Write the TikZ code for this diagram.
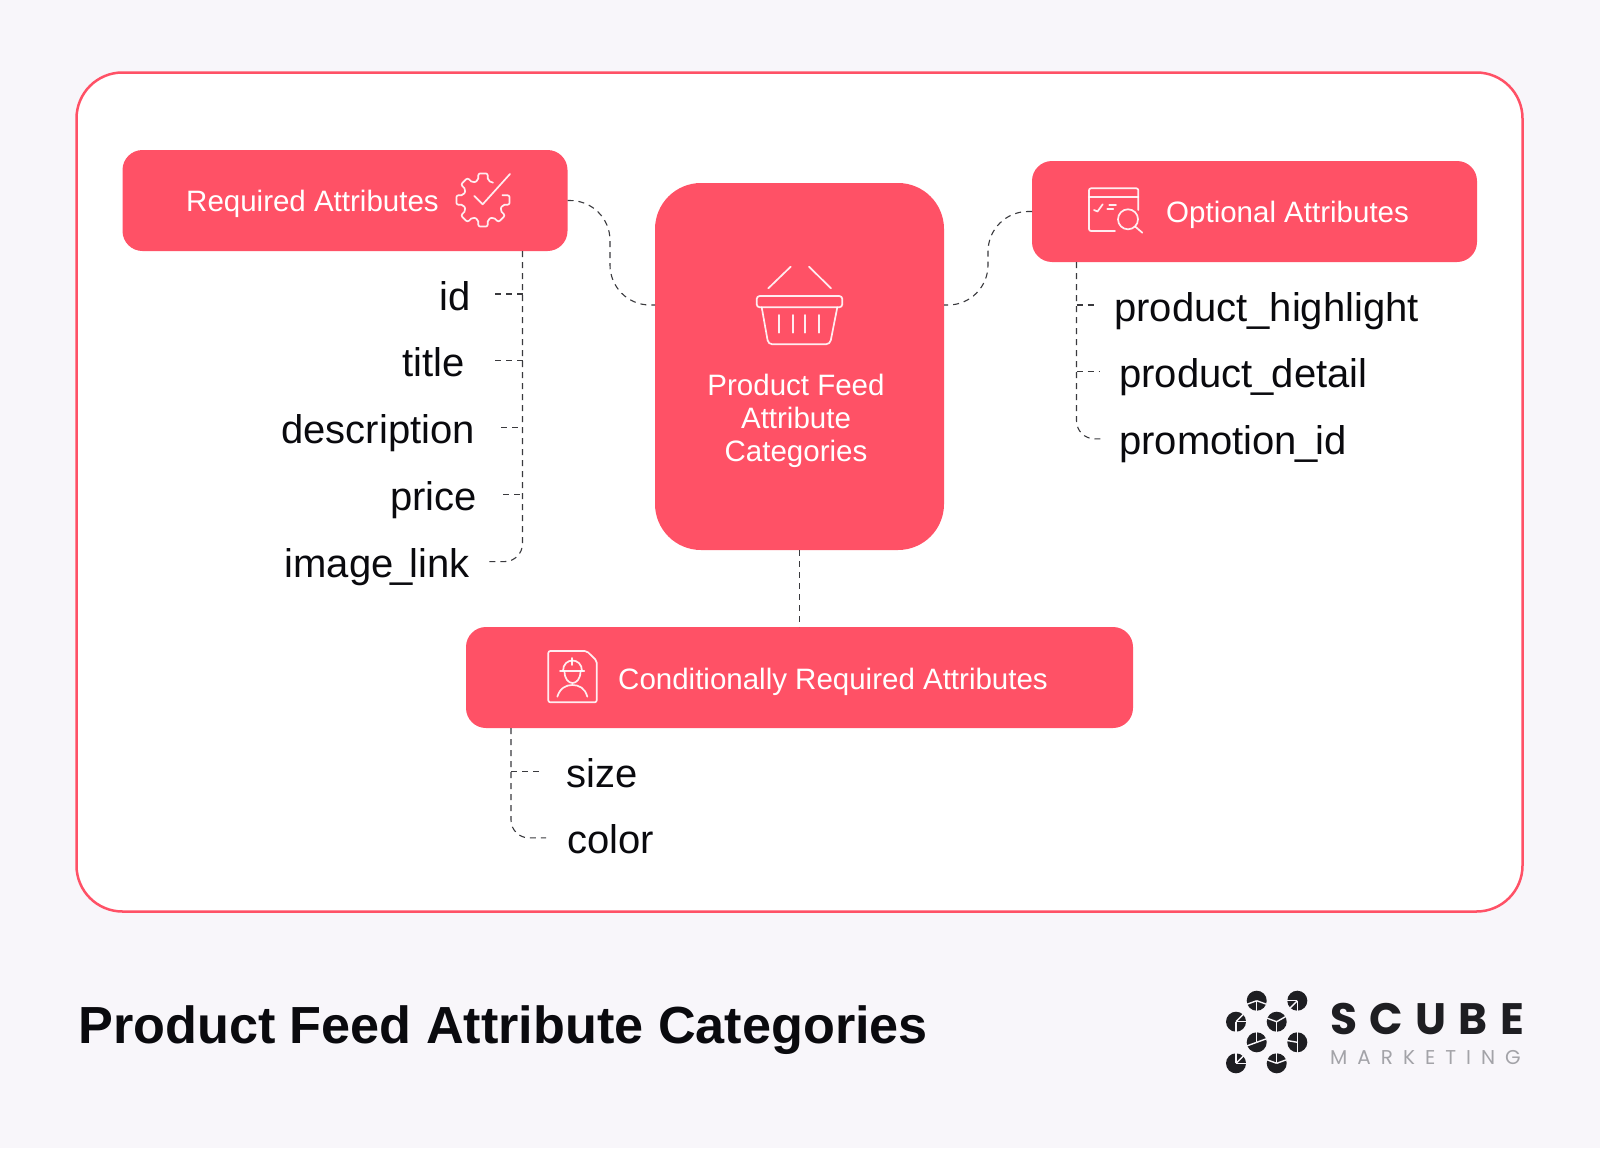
\documentclass[tikz,border=0pt]{standalone}
\usepackage{fontspec}
\setmainfont{Liberation Sans}
\newfontfamily\logofont{Poppins}
\usetikzlibrary{positioning}
\definecolor{coral}{HTML}{FF5166}
\definecolor{pagetint}{HTML}{F8F6FA}
\definecolor{inkblack}{HTML}{0A0A0E}
\definecolor{linkgrey}{HTML}{3A3A3E}
\definecolor{logogrey}{HTML}{A3A3A8}
\definecolor{logoblack}{HTML}{1E1E22}

\begin{document}
\begin{tikzpicture}[x=1pt, y=-1pt]
\tikzstyle{panel} = [rectangle, rounded corners=46pt, minimum width=1446pt, minimum height=839pt, draw=coral, line width=2.5pt, fill=white]
\tikzstyle{cat} = [rectangle, rounded corners=20pt, minimum width=445pt, minimum height=101pt, fill=coral, outer sep=0pt]
\tikzstyle{hubbox} = [rectangle, rounded corners=46pt, minimum width=289pt, minimum height=367pt, fill=coral, outer sep=0pt]
\tikzstyle{catlabel} = [text=white, inner sep=0pt, font=\fontsize{29.5}{33}\selectfont]
\tikzstyle{item} = [text=inkblack, inner sep=0pt, text height=40pt, text depth=8pt, font=\fontsize{40}{48}\selectfont]
\tikzstyle{link} = [draw=linkgrey, line width=1.1pt, dash pattern=on 6pt off 5pt]
\tikzstyle{icon} = [draw=white, line width=1.7pt, line join=round, line cap=round, opacity=0.9]

\useasboundingbox (0,0) rectangle (1600,1148);
\fill[pagetint] (0,0) rectangle (1600,1148);
\node (frame) [panel] at (799.5,492) {};

% boxes
\node (hub) [hubbox] at (799.5,366.5) {};
\node (required) [cat, left=87.5pt of hub.west, yshift=166pt] {};
\node (optional) [cat, right=88pt of hub.east, yshift=155pt] {};
\node (conditional) [cat, below=77pt of hub.south, minimum width=667pt] {};

\node (hublabel) [catlabel, align=center] at (796,421) {Product Feed\\Attribute\\Categories};
\node (requiredlabel) [catlabel, anchor=base west] at (186,211) {Required Attributes};
\node (optionallabel) [catlabel, anchor=base west] at (1166,222) {Optional Attributes};
\node (conditionallabel) [catlabel, anchor=base west] at (618,689) {Conditionally Required Attributes};

% attribute lists
\node (id) [item, anchor=east] at (471,294) {id};
\node (titleattr) [item, below=18.5pt of id.south east, anchor=north east, xshift=-6pt] {title};
\node (description) [item, below=18.5pt of titleattr.south east, anchor=north east, xshift=10pt] {description};
\node (price) [item, below=18.5pt of description.south east, anchor=north east, xshift=2pt] {price};
\node (imagelink) [item, below=18.5pt of price.south east, anchor=north east, xshift=-7pt] {image\kern-3pt\_\kern-3pt link};

\node (highlight) [item, anchor=west] at (1114,305) {product\_highlight};
\node (detail) [item, below=18.5pt of highlight.south west, anchor=north west, xshift=5pt] {product\kern-1.5pt\_\kern-1.5pt detail};
\node (promotion) [item, below=18.5pt of detail.south west, anchor=north west] {promotion\kern-2pt\_\kern-2pt id};

\node (size) [item, anchor=west] at (566,771.5) {size};
\node (color) [item, below=18pt of size.south west, anchor=north west, xshift=1pt] {color};

% connectors
\coordinate (requiredtrunk) at ([xshift=177.5pt]required.south);
\coordinate (optionaltrunk) at ([xshift=-178pt]optional.south);
\coordinate (conditionaltrunk) at ([xshift=-288.5pt]conditional.south);
\coordinate (hubleft) at ([yshift=61.5pt]hub.west);
\coordinate (hubright) at ([yshift=61.5pt]hub.east);

\draw[link, rounded corners=40pt] (required.east) -- (610,200.5) -- (610,305) -- (hubleft);
\draw[link, rounded corners=40pt] (optional.west) -- (988,211.5) -- (988,305) -- (hubright);
\draw[link] (hub.south) -- (conditional.north);

\draw[link, rounded corners=18pt, shorten >=19pt] (requiredtrunk) |- (imagelink.east);
\draw[link, shorten <=24pt] (id.east) -- (id.east -| requiredtrunk);
\draw[link, shorten <=30pt] (titleattr.east) -- (titleattr.east -| requiredtrunk);
\draw[link, shorten <=26pt] (description.east) -- (description.east -| requiredtrunk);
\draw[link, shorten <=26pt] (price.east) -- (price.east -| requiredtrunk);

\draw[link, rounded corners=18pt, shorten >=18pt] (optionaltrunk) |- (promotion.west);
\draw[link, shorten >=20pt] (highlight.west -| optionaltrunk) -- (highlight.west);
\draw[link, shorten >=19pt] (detail.west -| optionaltrunk) -- (detail.west);

\draw[link, rounded corners=18pt, shorten >=21pt] (conditionaltrunk) |- (color.west);
\draw[link, shorten >=27pt] (size.west -| conditionaltrunk) -- (size.west);

% gear icon
\begin{scope}[shift={(483,200)}]
\draw[icon, rounded corners=2pt] (60:20pt) \foreach \a in {90,135,...,360} { -- (\a-14:20pt) -- (\a-10:27pt) -- (\a+10:27pt) -- (\a+14:20pt) };
\draw[icon] (-8.7,-4) -- (-0.3,4.3) -- (27,-26);
\end{scope}

% basket icon
\draw[icon] (768.3,288.3) -- (790.7,266.7);
\draw[icon] (831,288.3) -- (809,266.7);
\draw[icon, rounded corners=3pt] (756.7,296) rectangle (842.3,307.3);
\draw[icon, rounded corners=4pt] (761.7,307.3) -- (768.3,344.3) -- (830,344.3) -- (837.3,307.3);
\draw[icon] (779.3,315) -- (779.3,332.7);
\draw[icon] (793.3,315) -- (793.3,332.7);
\draw[icon] (805.3,315) -- (805.3,332.7);
\draw[icon] (819.3,315) -- (819.3,332.7);

% window icon
\draw[icon, rounded corners=2pt] (1138.3,210) -- (1138.3,188.3) -- (1089,188.3) -- (1089,231) -- (1115,231);
\draw[icon] (1089,197.3) -- (1138.3,197.3);
\draw[icon] (1094,210) -- (1097.5,211.5) -- (1102.7,204.3);
\draw[icon] (1109.3,205) -- (1116,205);
\draw[icon] (1107.3,209.3) -- (1113.3,209.3);
\draw[icon] (1128,219.3) circle (10);
\draw[icon] (1135.3,226.7) -- (1142.3,232.7);

% worker icon
\draw[icon, rounded corners=2pt] (586.7,651) -- (548.3,651) -- (548.3,702.3) -- (596.7,702.3) -- (596.7,660.7) -- cycle;
\draw[icon] (560,671) -- (584.3,671);
\draw[icon] (563,671) .. controls (563,657) and (582,657) .. (582,671);
\draw[icon] (564.5,671) .. controls (564.5,687) and (580.5,687) .. (580.5,671);
\draw[icon] (572.3,658) -- (572.3,665);
\draw[icon] (557.3,696.7) .. controls (560,688) and (566,685) .. (572.3,685) .. controls (579,685) and (585,688) .. (587.3,696.7);

% bottom line
\node (heading) [anchor=base west, inner sep=0pt, text=inkblack, font=\fontsize{52.2}{60}\selectfont\bfseries] at (78,1043) {Product Feed Attribute Categories};

\foreach \cx/\cy/\ca/\cb/\cc in {1256.7/1000.7/200/340/270, 1297.3/1000.7/225/180/270, 1236/1021.7/0/45/270, 1276.7/1021.7/160/30/270, 1256.7/1042.3/90/20/200, 1297.3/1042.3/90/170/270, 1236/1063.3/45/90/0, 1276.7/1063.3/90/20/160} {
  \fill[logoblack] (\cx,\cy) circle (10);
  \draw[pagetint, line width=1.4pt] (\ca:10.5pt) ++(\cx,\cy) -- (\cx,\cy);
  \draw[pagetint, line width=1.4pt] (\cb:10.5pt) ++(\cx,\cy) -- (\cx,\cy);
  \draw[pagetint, line width=1.4pt] (\cc:10.5pt) ++(\cx,\cy) -- (\cx,\cy);
}
\node (logoname) [anchor=base west, inner sep=0pt, text=logoblack, font=\logofont\addfontfeature{LetterSpace=28}\fontsize{44}{50}\selectfont\bfseries] at (1330,1034) {SCUBE};
\node (logotag) [anchor=base west, inner sep=0pt, text=logogrey, font=\logofont\addfontfeature{LetterSpace=50}\fontsize{20}{24}\selectfont] at (1330,1064) {MARKETING};
\end{tikzpicture}
\end{document}
